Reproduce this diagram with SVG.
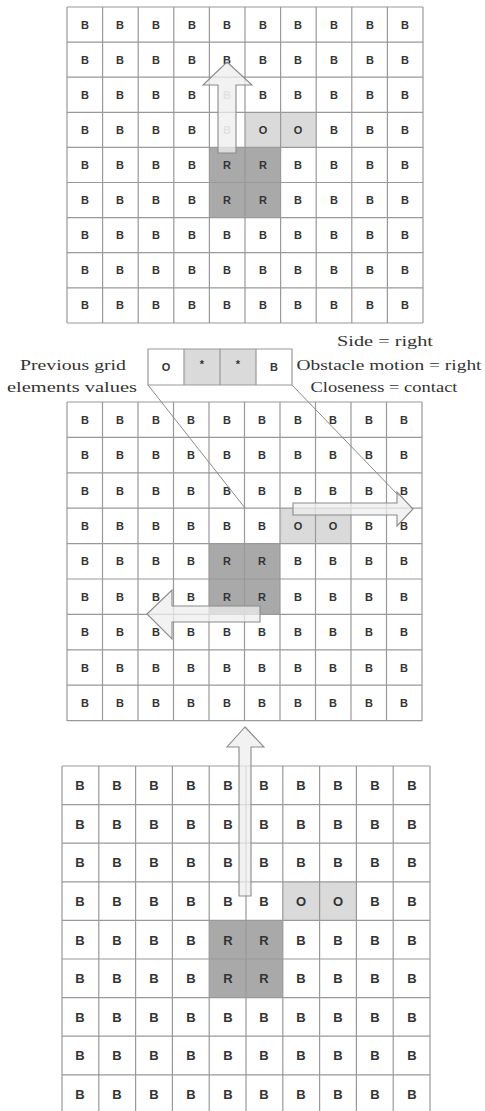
<svg xmlns="http://www.w3.org/2000/svg" width="485" height="1111" viewBox="0 0 485 1111">
<defs>
<style>
.bg{fill:#ffffff}
.gl{fill:none;stroke:#999999;stroke-width:1.2}
.rc{fill:#a9a9a9}
.oc{fill:#dadada}
.t{font-family:"Liberation Sans",Arial,sans-serif;font-weight:bold;font-size:11px;fill:#333333;text-anchor:middle}
.tb{font-size:13px}
.f{fill:#bdbdbd}
.lbl{font-family:"Liberation Serif","Times New Roman",serif;font-size:15px;fill:#333333;text-anchor:middle}
.arr{fill:#eeeeee;fill-opacity:0.75;stroke:#8a8a8a;stroke-width:1.1}
.ln{fill:none;stroke:#8a8a8a;stroke-width:1}
</style>
</defs>
<rect class="bg" x="0" y="0" width="485" height="1111"/>

<g id="grid-top">
<rect class="oc" x="245" y="112.3" width="71.2" height="35.1"/>
<rect class="rc" x="209.4" y="147.4" width="71.2" height="70.2"/>
<path class="gl" d="M67 7V323M102.6 7V323M138.2 7V323M173.8 7V323M209.4 7V323M245 7V323M280.6 7V323M316.2 7V323M351.8 7V323M387.4 7V323M423 7V323M67 7H423M67 42.1H423M67 77.2H423M67 112.3H423M67 147.4H423M67 182.5H423M67 217.6H423M67 252.7H423M67 287.8H423M67 323H423"/>
<g class="t">
<text x="85" y="29">B</text><text x="120" y="29">B</text><text x="156" y="29">B</text><text x="192" y="29">B</text><text x="227" y="29">B</text><text x="263" y="29">B</text><text x="298" y="29">B</text><text x="334" y="29">B</text><text x="370" y="29">B</text><text x="405" y="29">B</text>
<text x="85" y="64">B</text><text x="120" y="64">B</text><text x="156" y="64">B</text><text x="192" y="64">B</text><text x="227" y="64">B</text><text x="263" y="64">B</text><text x="298" y="64">B</text><text x="334" y="64">B</text><text x="370" y="64">B</text><text x="405" y="64">B</text>
<text x="85" y="99">B</text><text x="120" y="99">B</text><text x="156" y="99">B</text><text x="192" y="99">B</text><text class="f" x="227" y="99">B</text><text x="263" y="99">B</text><text x="298" y="99">B</text><text x="334" y="99">B</text><text x="370" y="99">B</text><text x="405" y="99">B</text>
<text x="85" y="134">B</text><text x="120" y="134">B</text><text x="156" y="134">B</text><text x="192" y="134">B</text><text class="f" x="227" y="134">B</text><text x="263" y="134">O</text><text x="298" y="134">O</text><text x="334" y="134">B</text><text x="370" y="134">B</text><text x="405" y="134">B</text>
<text x="85" y="169">B</text><text x="120" y="169">B</text><text x="156" y="169">B</text><text x="192" y="169">B</text><text x="227" y="169">R</text><text x="263" y="169">R</text><text x="298" y="169">B</text><text x="334" y="169">B</text><text x="370" y="169">B</text><text x="405" y="169">B</text>
<text x="85" y="204">B</text><text x="120" y="204">B</text><text x="156" y="204">B</text><text x="192" y="204">B</text><text x="227" y="204">R</text><text x="263" y="204">R</text><text x="298" y="204">B</text><text x="334" y="204">B</text><text x="370" y="204">B</text><text x="405" y="204">B</text>
<text x="85" y="239">B</text><text x="120" y="239">B</text><text x="156" y="239">B</text><text x="192" y="239">B</text><text x="227" y="239">B</text><text x="263" y="239">B</text><text x="298" y="239">B</text><text x="334" y="239">B</text><text x="370" y="239">B</text><text x="405" y="239">B</text>
<text x="85" y="274">B</text><text x="120" y="274">B</text><text x="156" y="274">B</text><text x="192" y="274">B</text><text x="227" y="274">B</text><text x="263" y="274">B</text><text x="298" y="274">B</text><text x="334" y="274">B</text><text x="370" y="274">B</text><text x="405" y="274">B</text>
<text x="85" y="309">B</text><text x="120" y="309">B</text><text x="156" y="309">B</text><text x="192" y="309">B</text><text x="227" y="309">B</text><text x="263" y="309">B</text><text x="298" y="309">B</text><text x="334" y="309">B</text><text x="370" y="309">B</text><text x="405" y="309">B</text>
</g>
</g>

<g id="grid-middle">
<rect class="oc" x="280" y="508.2" width="71" height="35.4"/>
<rect class="rc" x="209" y="543.6" width="71" height="70.8"/>
<path class="gl" d="M67 402V721M102.5 402V721M138 402V721M173.5 402V721M209 402V721M244.5 402V721M280 402V721M315.5 402V721M351 402V721M386.5 402V721M422 402V721M67 402H422M67 437.4H422M67 472.8H422M67 508.2H422M67 543.6H422M67 579H422M67 614.4H422M67 649.8H422M67 685.2H422M67 720.6H422"/>
<g class="t">
<text x="85" y="424">B</text><text x="120" y="424">B</text><text x="156" y="424">B</text><text x="191" y="424">B</text><text x="227" y="424">B</text><text x="262" y="424">B</text><text x="298" y="424">B</text><text x="333" y="424">B</text><text x="369" y="424">B</text><text x="404" y="424">B</text>
<text x="85" y="459">B</text><text x="120" y="459">B</text><text x="156" y="459">B</text><text x="191" y="459">B</text><text x="227" y="459">B</text><text x="262" y="459">B</text><text x="298" y="459">B</text><text x="333" y="459">B</text><text x="369" y="459">B</text><text x="404" y="459">B</text>
<text x="85" y="495">B</text><text x="120" y="495">B</text><text x="156" y="495">B</text><text x="191" y="495">B</text><text x="227" y="495">B</text><text x="262" y="495">B</text><text x="298" y="495">B</text><text x="333" y="495">B</text><text x="369" y="495">B</text><text x="404" y="495">B</text>
<text x="85" y="530">B</text><text x="120" y="530">B</text><text x="156" y="530">B</text><text x="191" y="530">B</text><text x="227" y="530">B</text><text x="262" y="530">B</text><text x="298" y="530">O</text><text x="333" y="530">O</text><text x="369" y="530">B</text><text x="404" y="530">B</text>
<text x="85" y="565">B</text><text x="120" y="565">B</text><text x="156" y="565">B</text><text x="191" y="565">B</text><text x="227" y="565">R</text><text x="262" y="565">R</text><text x="298" y="565">B</text><text x="333" y="565">B</text><text x="369" y="565">B</text><text x="404" y="565">B</text>
<text x="85" y="601">B</text><text x="120" y="601">B</text><text x="156" y="601">B</text><text x="191" y="601">B</text><text x="227" y="601">R</text><text x="262" y="601">R</text><text x="298" y="601">B</text><text x="333" y="601">B</text><text x="369" y="601">B</text><text x="404" y="601">B</text>
<text x="85" y="636">B</text><text x="120" y="636">B</text><text x="156" y="636">B</text><text x="191" y="636">B</text><text x="227" y="636">B</text><text x="262" y="636">B</text><text x="298" y="636">B</text><text x="333" y="636">B</text><text x="369" y="636">B</text><text x="404" y="636">B</text>
<text x="85" y="672">B</text><text x="120" y="672">B</text><text x="156" y="672">B</text><text x="191" y="672">B</text><text x="227" y="672">B</text><text x="262" y="672">B</text><text x="298" y="672">B</text><text x="333" y="672">B</text><text x="369" y="672">B</text><text x="404" y="672">B</text>
<text x="85" y="707">B</text><text x="120" y="707">B</text><text x="156" y="707">B</text><text x="191" y="707">B</text><text x="227" y="707">B</text><text x="262" y="707">B</text><text x="298" y="707">B</text><text x="333" y="707">B</text><text x="369" y="707">B</text><text x="404" y="707">B</text>
</g>
</g>

<g id="grid-bottom">
<rect class="oc" x="282.8" y="881.8" width="73.6" height="38.6"/>
<rect class="rc" x="209.2" y="920.4" width="73.6" height="77.2"/>
<path class="gl" d="M62 766V1113M98.8 766V1113M135.6 766V1113M172.4 766V1113M209.2 766V1113M246 766V1113M282.8 766V1113M319.6 766V1113M356.4 766V1113M393.2 766V1113M430 766V1113M62 766H430M62 804.6H430M62 843.2H430M62 881.8H430M62 920.4H430M62 959H430M62 997.6H430M62 1036.2H430M62 1074.8H430"/>
<g class="t tb">
<text x="80" y="790">B</text><text x="117" y="790">B</text><text x="154" y="790">B</text><text x="191" y="790">B</text><text x="228" y="790">B</text><text x="264" y="790">B</text><text x="301" y="790">B</text><text x="338" y="790">B</text><text x="375" y="790">B</text><text x="412" y="790">B</text>
<text x="80" y="829">B</text><text x="117" y="829">B</text><text x="154" y="829">B</text><text x="191" y="829">B</text><text x="228" y="829">B</text><text x="264" y="829">B</text><text x="301" y="829">B</text><text x="338" y="829">B</text><text x="375" y="829">B</text><text x="412" y="829">B</text>
<text x="80" y="867">B</text><text x="117" y="867">B</text><text x="154" y="867">B</text><text x="191" y="867">B</text><text x="228" y="867">B</text><text x="264" y="867">B</text><text x="301" y="867">B</text><text x="338" y="867">B</text><text x="375" y="867">B</text><text x="412" y="867">B</text>
<text x="80" y="906">B</text><text x="117" y="906">B</text><text x="154" y="906">B</text><text x="191" y="906">B</text><text x="228" y="906">B</text><text x="264" y="906">B</text><text x="301" y="906">O</text><text x="338" y="906">O</text><text x="375" y="906">B</text><text x="412" y="906">B</text>
<text x="80" y="945">B</text><text x="117" y="945">B</text><text x="154" y="945">B</text><text x="191" y="945">B</text><text x="228" y="945">R</text><text x="264" y="945">R</text><text x="301" y="945">B</text><text x="338" y="945">B</text><text x="375" y="945">B</text><text x="412" y="945">B</text>
<text x="80" y="983">B</text><text x="117" y="983">B</text><text x="154" y="983">B</text><text x="191" y="983">B</text><text x="228" y="983">R</text><text x="264" y="983">R</text><text x="301" y="983">B</text><text x="338" y="983">B</text><text x="375" y="983">B</text><text x="412" y="983">B</text>
<text x="80" y="1022">B</text><text x="117" y="1022">B</text><text x="154" y="1022">B</text><text x="191" y="1022">B</text><text x="228" y="1022">B</text><text x="264" y="1022">B</text><text x="301" y="1022">B</text><text x="338" y="1022">B</text><text x="375" y="1022">B</text><text x="412" y="1022">B</text>
<text x="80" y="1060">B</text><text x="117" y="1060">B</text><text x="154" y="1060">B</text><text x="191" y="1060">B</text><text x="228" y="1060">B</text><text x="264" y="1060">B</text><text x="301" y="1060">B</text><text x="338" y="1060">B</text><text x="375" y="1060">B</text><text x="412" y="1060">B</text>
<text x="80" y="1099">B</text><text x="117" y="1099">B</text><text x="154" y="1099">B</text><text x="191" y="1099">B</text><text x="228" y="1099">B</text><text x="264" y="1099">B</text><text x="301" y="1099">B</text><text x="338" y="1099">B</text><text x="375" y="1099">B</text><text x="412" y="1099">B</text>
</g>
</g>

<g id="previous-values">
<rect class="oc" x="184" y="349" width="72" height="36"/>
<path class="gl" d="M148 349H292V385H148ZM184 349V385M220 349V385M256 349V385"/>
<g class="t">
<text x="166" y="371">O</text><text x="202" y="368">*</text><text x="238" y="368">*</text><text x="274" y="371">B</text>
</g>
</g>

<g id="label-previous">
<text class="lbl" x="73" y="370" textLength="106" lengthAdjust="spacingAndGlyphs">Previous grid</text>
<text class="lbl" x="72" y="392" textLength="130" lengthAdjust="spacingAndGlyphs">elements values</text>
</g>
<g id="label-conditions">
<text class="lbl" x="385" y="346" textLength="96" lengthAdjust="spacingAndGlyphs">Side = right</text>
<text class="lbl" x="389" y="370" textLength="185" lengthAdjust="spacingAndGlyphs">Obstacle motion = right</text>
<text class="lbl" x="384" y="392" textLength="147" lengthAdjust="spacingAndGlyphs">Closeness = contact</text>
</g>

<g id="connectors">
<path class="ln" d="M148 385L245 508"/>
<path class="ln" d="M292 385L399 496"/>
<path class="arr" d="M227 62L252 85L236 85L236 153L218 153L218 85L203 85Z"/>
<path class="arr" d="M293 503L397 503L397 492L413 509L397 526L397 515L293 515Z"/>
<path class="arr" d="M147 614L172 590L172 606L260 606L260 622L172 622L172 639Z"/>
<path class="arr" d="M245 727L264 747L251 747L251 896L239 896L239 747L227 747Z"/>
</g>
</svg>
